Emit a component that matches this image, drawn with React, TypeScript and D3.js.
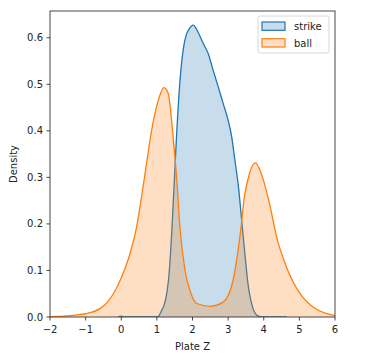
import * as d3 from "d3";

const strikeX = [-0.1, 0.0, 0.1, 0.5, 1.0, 1.07, 1.13, 1.2, 1.26, 1.35, 1.42, 1.49, 1.56, 1.65, 1.74, 1.82, 1.9, 2.02, 2.1, 2.2, 2.3, 2.44, 2.58, 2.72, 2.86, 3.0, 3.1, 3.19, 3.29, 3.38, 3.47, 3.57, 3.64, 3.7, 3.76, 3.82, 3.9, 4.0, 4.3, 4.65];
const strikeY = [0, 0.002, 0, 0, 0, 0.004, 0.014, 0.025, 0.043, 0.1, 0.186, 0.294, 0.4, 0.509, 0.575, 0.605, 0.618, 0.627, 0.62, 0.605, 0.588, 0.566, 0.53, 0.495, 0.459, 0.423, 0.387, 0.337, 0.28, 0.208, 0.136, 0.064, 0.035, 0.018, 0.008, 0.003, 0.001, 0, 0, 0];

const ballX = [-2.0, -1.6, -1.3, -1.0, -0.6, -0.4, -0.22, 0.01, 0.245, 0.43, 0.57, 0.71, 0.85, 1.04, 1.2, 1.32, 1.44, 1.56, 1.65, 1.79, 1.93, 2.12, 2.49, 2.86, 3.14, 3.33, 3.47, 3.6, 3.68, 3.77, 3.88, 3.99, 4.18, 4.36, 4.64, 5.02, 5.39, 5.7, 5.95, 6.0];
const ballY = [0.001, 0.002, 0.004, 0.007, 0.018, 0.031, 0.05, 0.086, 0.136, 0.193, 0.258, 0.33, 0.4, 0.466, 0.493, 0.48, 0.4, 0.294, 0.19, 0.1, 0.057, 0.029, 0.023, 0.032, 0.079, 0.172, 0.265, 0.308, 0.325, 0.331, 0.318, 0.294, 0.237, 0.172, 0.107, 0.05, 0.021, 0.009, 0.004, 0.003];

const xTicks = [-2, -1, 0, 1, 2, 3, 4, 5, 6];
const yTicks = [0.0, 0.1, 0.2, 0.3, 0.4, 0.5, 0.6];

const series = [
  { name: "strike", xs: strikeX, ys: strikeY, color: "#1f77b4" },
  { name: "ball", xs: ballX, ys: ballY, color: "#ff7f0e" },
];

const W = 380;
const H = 362;
const PLOT = { left: 50, right: 335, top: 11, bottom: 317 };
const FONT = "DejaVu Sans, sans-serif";

export default function App() {
  const x = d3.scaleLinear().domain([-2, 6]).range([PLOT.left, PLOT.right]);
  const y = d3.scaleLinear().domain([0, 0.6575]).range([PLOT.bottom, PLOT.top]);

  const area = d3
    .area<[number, number]>()
    .x((d) => x(d[0]))
    .y0(y(0))
    .y1((d) => y(d[1]))
    .curve(d3.curveMonotoneX);
  const line = d3
    .line<[number, number]>()
    .x((d) => x(d[0]))
    .y((d) => y(d[1]))
    .curve(d3.curveMonotoneX);

  return (
    <svg
      width={W}
      height={H}
      style={{ position: "absolute", left: 0, top: 0, background: "#fff" }}
      fontFamily={FONT}
    >
      <defs>
        <clipPath id="plot-clip">
          <rect x={PLOT.left} y={PLOT.top} width={PLOT.right - PLOT.left} height={PLOT.bottom - PLOT.top} />
        </clipPath>
      </defs>

      <g clipPath="url(#plot-clip)">
        {series.map((s) => {
          const pts = s.xs.map((v, i) => [v, s.ys[i]] as [number, number]);
          return (
            <g key={s.name}>
              <path d={area(pts) ?? ""} fill={s.color} fillOpacity={0.25} />
              <path d={line(pts) ?? ""} fill="none" stroke={s.color} strokeWidth={1.3} />
            </g>
          );
        })}
      </g>

      {/* spines */}
      <rect
        x={PLOT.left}
        y={PLOT.top}
        width={PLOT.right - PLOT.left}
        height={PLOT.bottom - PLOT.top}
        fill="none"
        stroke="#333"
        strokeWidth={0.9}
      />

      {/* x axis */}
      {xTicks.map((t) => (
        <g key={"x" + t} transform={`translate(${x(t)},${PLOT.bottom})`}>
          <line y2={3.5} stroke="#333" strokeWidth={0.9} />
          <text y={16} textAnchor="middle" fontSize={10} fill="#222">
            {t < 0 ? "\u2212" + Math.abs(t) : t}
          </text>
        </g>
      ))}
      <text x={(PLOT.left + PLOT.right) / 2} y={350} textAnchor="middle" fontSize={10} fill="#222">
        Plate Z
      </text>

      {/* y axis */}
      {yTicks.map((t) => (
        <g key={"y" + t} transform={`translate(${PLOT.left},${y(t)})`}>
          <line x2={-3.5} stroke="#333" strokeWidth={0.9} />
          <text x={-7} dy="0.35em" textAnchor="end" fontSize={10} fill="#222">
            {t.toFixed(1)}
          </text>
        </g>
      ))}
      <text
        transform={`translate(17,${(PLOT.top + PLOT.bottom) / 2}) rotate(-90)`}
        textAnchor="middle"
        fontSize={10}
        fill="#222"
      >
        Density
      </text>

      {/* legend */}
      <g transform="translate(258,16)">
        <rect width={71} height={37} rx={2.5} fill="#fff" fillOpacity={0.8} stroke="#ccc" strokeWidth={0.8} />
        {series.map((s, i) => (
          <g key={"lg" + s.name} transform={`translate(4,${6 + i * 16.7})`}>
            <rect width={23} height={8.3} fill={s.color} fillOpacity={0.25} stroke={s.color} strokeWidth={1.2} />
            <text x={32} y={8} fontSize={10} fill="#222">
              {s.name}
            </text>
          </g>
        ))}
      </g>
    </svg>
  );
}
